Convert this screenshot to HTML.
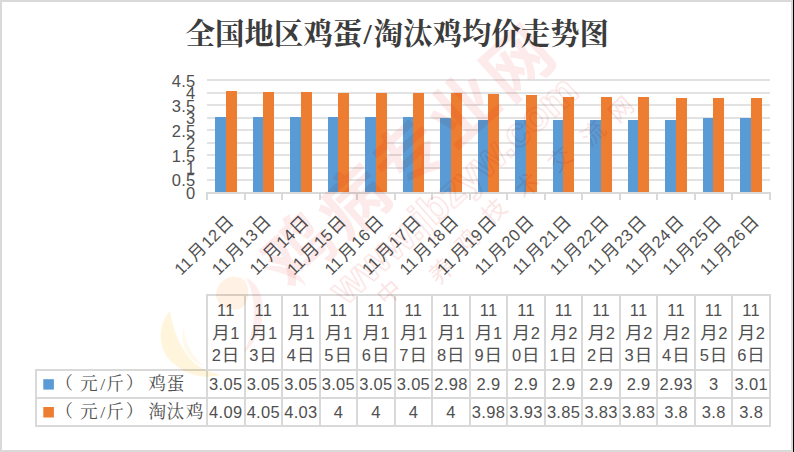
<!DOCTYPE html>
<html lang="zh"><head><meta charset="utf-8"><title>全国地区鸡蛋/淘汰鸡均价走势图</title>
<style>html,body{margin:0;padding:0;background:#fff;}body{width:794px;height:452px;overflow:hidden;font-family:"Liberation Sans",sans-serif;}svg{display:block;}</style>
</head><body>
<svg width="794" height="452" viewBox="0 0 794 452" font-family="'Liberation Sans', 'Noto Sans CJK SC', sans-serif" role="img" aria-label="全国地区鸡蛋/淘汰鸡均价走势图">
<rect x="0" y="0" width="794" height="452" fill="#D9D9D9"/>
<rect x="2" y="2" width="789" height="448" fill="#FFFFFF"/>
<rect x="793" y="0" width="1" height="452" fill="#000000"/>
<g fill="#3C3C3C" font-family="'Liberation Serif', 'Noto Serif CJK SC', serif" font-size="29.4" font-weight="bold"><text x="185.6" y="43.9" textLength="176.5" lengthAdjust="spacingAndGlyphs">全国地区鸡蛋</text><text x="367.7" y="43.9" text-anchor="middle">/</text><text x="373.72" y="43.9" textLength="235.3" lengthAdjust="spacingAndGlyphs">淘汰鸡均价走势图</text></g>
<rect x="207.0" y="79" width="563.0" height="2" fill="#E2E2E2"/>
<rect x="207.0" y="92" width="563.0" height="2" fill="#E2E2E2"/>
<rect x="207.0" y="104" width="563.0" height="2" fill="#E2E2E2"/>
<rect x="207.0" y="117" width="563.0" height="2" fill="#E2E2E2"/>
<rect x="207.0" y="129" width="563.0" height="2" fill="#E2E2E2"/>
<rect x="207.0" y="142" width="563.0" height="2" fill="#E2E2E2"/>
<rect x="207.0" y="154" width="563.0" height="2" fill="#E2E2E2"/>
<rect x="207.0" y="167" width="563.0" height="2" fill="#E2E2E2"/>
<rect x="207.0" y="179" width="563.0" height="2" fill="#E2E2E2"/>
<rect x="215" y="117" width="11" height="75" fill="#5B9BD5"/>
<rect x="226" y="91" width="11" height="101" fill="#ED7D31"/>
<rect x="253" y="117" width="10" height="75" fill="#5B9BD5"/>
<rect x="263" y="92" width="11" height="100" fill="#ED7D31"/>
<rect x="290" y="117" width="11" height="75" fill="#5B9BD5"/>
<rect x="301" y="92" width="11" height="100" fill="#ED7D31"/>
<rect x="328" y="117" width="10" height="75" fill="#5B9BD5"/>
<rect x="338" y="93" width="11" height="99" fill="#ED7D31"/>
<rect x="365" y="117" width="11" height="75" fill="#5B9BD5"/>
<rect x="376" y="93" width="11" height="99" fill="#ED7D31"/>
<rect x="403" y="117" width="10" height="75" fill="#5B9BD5"/>
<rect x="413" y="93" width="11" height="99" fill="#ED7D31"/>
<rect x="440" y="118" width="11" height="74" fill="#5B9BD5"/>
<rect x="451" y="93" width="11" height="99" fill="#ED7D31"/>
<rect x="478" y="120" width="10" height="72" fill="#5B9BD5"/>
<rect x="488" y="94" width="11" height="98" fill="#ED7D31"/>
<rect x="515" y="120" width="11" height="72" fill="#5B9BD5"/>
<rect x="526" y="95" width="11" height="97" fill="#ED7D31"/>
<rect x="553" y="120" width="10" height="72" fill="#5B9BD5"/>
<rect x="563" y="97" width="11" height="95" fill="#ED7D31"/>
<rect x="590" y="120" width="11" height="72" fill="#5B9BD5"/>
<rect x="601" y="97" width="11" height="95" fill="#ED7D31"/>
<rect x="628" y="120" width="10" height="72" fill="#5B9BD5"/>
<rect x="638" y="97" width="11" height="95" fill="#ED7D31"/>
<rect x="665" y="120" width="11" height="72" fill="#5B9BD5"/>
<rect x="676" y="98" width="11" height="94" fill="#ED7D31"/>
<rect x="703" y="118" width="10" height="74" fill="#5B9BD5"/>
<rect x="713" y="98" width="11" height="94" fill="#ED7D31"/>
<rect x="740" y="118" width="11" height="74" fill="#5B9BD5"/>
<rect x="751" y="98" width="11" height="94" fill="#ED7D31"/>
<rect x="206.0" y="192" width="565.0" height="2" fill="#D9D9D9"/>
<rect x="206" y="193" width="2" height="7" fill="#D9D9D9"/>
<rect x="244" y="193" width="2" height="7" fill="#D9D9D9"/>
<rect x="281" y="193" width="2" height="7" fill="#D9D9D9"/>
<rect x="319" y="193" width="2" height="7" fill="#D9D9D9"/>
<rect x="356" y="193" width="2" height="7" fill="#D9D9D9"/>
<rect x="394" y="193" width="2" height="7" fill="#D9D9D9"/>
<rect x="431" y="193" width="2" height="7" fill="#D9D9D9"/>
<rect x="469" y="193" width="2" height="7" fill="#D9D9D9"/>
<rect x="506" y="193" width="2" height="7" fill="#D9D9D9"/>
<rect x="544" y="193" width="2" height="7" fill="#D9D9D9"/>
<rect x="581" y="193" width="2" height="7" fill="#D9D9D9"/>
<rect x="619" y="193" width="2" height="7" fill="#D9D9D9"/>
<rect x="656" y="193" width="2" height="7" fill="#D9D9D9"/>
<rect x="694" y="193" width="2" height="7" fill="#D9D9D9"/>
<rect x="731" y="193" width="2" height="7" fill="#D9D9D9"/>
<rect x="769" y="193" width="2" height="7" fill="#D9D9D9"/>
<g font-size="16.5" letter-spacing="0.3" text-anchor="end" fill="#505050"><text x="195.6" y="86.7">4.5</text><text x="195.6" y="99.17">4</text><text x="195.6" y="111.63">3.5</text><text x="195.6" y="124.1">3</text><text x="195.6" y="136.57">2.5</text><text x="195.6" y="149.03">2</text><text x="195.6" y="161.5">1.5</text><text x="195.6" y="173.97">1</text><text x="195.6" y="186.43">0.5</text><text x="195.6" y="198.9">0</text></g>
<g transform="translate(234.9 222.4) rotate(-45)" font-size="16.5" letter-spacing="0.3" fill="#505050"><text x="-18.02" y="0" font-size="17.4">日</text><text x="-37.79" y="0">12</text><text x="-56.01" y="0" font-size="17.4">月</text><text x="-75.78" y="0">11</text></g>
<g transform="translate(272.43 222.4) rotate(-45)" font-size="16.5" letter-spacing="0.3" fill="#505050"><text x="-18.02" y="0" font-size="17.4">日</text><text x="-37.79" y="0">13</text><text x="-56.01" y="0" font-size="17.4">月</text><text x="-75.78" y="0">11</text></g>
<g transform="translate(309.97 222.4) rotate(-45)" font-size="16.5" letter-spacing="0.3" fill="#505050"><text x="-18.02" y="0" font-size="17.4">日</text><text x="-37.79" y="0">14</text><text x="-56.01" y="0" font-size="17.4">月</text><text x="-75.78" y="0">11</text></g>
<g transform="translate(347.5 222.4) rotate(-45)" font-size="16.5" letter-spacing="0.3" fill="#505050"><text x="-18.02" y="0" font-size="17.4">日</text><text x="-37.79" y="0">15</text><text x="-56.01" y="0" font-size="17.4">月</text><text x="-75.78" y="0">11</text></g>
<g transform="translate(385.03 222.4) rotate(-45)" font-size="16.5" letter-spacing="0.3" fill="#505050"><text x="-18.02" y="0" font-size="17.4">日</text><text x="-37.79" y="0">16</text><text x="-56.01" y="0" font-size="17.4">月</text><text x="-75.78" y="0">11</text></g>
<g transform="translate(422.57 222.4) rotate(-45)" font-size="16.5" letter-spacing="0.3" fill="#505050"><text x="-18.02" y="0" font-size="17.4">日</text><text x="-37.79" y="0">17</text><text x="-56.01" y="0" font-size="17.4">月</text><text x="-75.78" y="0">11</text></g>
<g transform="translate(460.1 222.4) rotate(-45)" font-size="16.5" letter-spacing="0.3" fill="#505050"><text x="-18.02" y="0" font-size="17.4">日</text><text x="-37.79" y="0">18</text><text x="-56.01" y="0" font-size="17.4">月</text><text x="-75.78" y="0">11</text></g>
<g transform="translate(497.63 222.4) rotate(-45)" font-size="16.5" letter-spacing="0.3" fill="#505050"><text x="-18.02" y="0" font-size="17.4">日</text><text x="-37.79" y="0">19</text><text x="-56.01" y="0" font-size="17.4">月</text><text x="-75.78" y="0">11</text></g>
<g transform="translate(535.17 222.4) rotate(-45)" font-size="16.5" letter-spacing="0.3" fill="#505050"><text x="-18.02" y="0" font-size="17.4">日</text><text x="-37.79" y="0">20</text><text x="-56.01" y="0" font-size="17.4">月</text><text x="-75.78" y="0">11</text></g>
<g transform="translate(572.7 222.4) rotate(-45)" font-size="16.5" letter-spacing="0.3" fill="#505050"><text x="-18.02" y="0" font-size="17.4">日</text><text x="-37.79" y="0">21</text><text x="-56.01" y="0" font-size="17.4">月</text><text x="-75.78" y="0">11</text></g>
<g transform="translate(610.23 222.4) rotate(-45)" font-size="16.5" letter-spacing="0.3" fill="#505050"><text x="-18.02" y="0" font-size="17.4">日</text><text x="-37.79" y="0">22</text><text x="-56.01" y="0" font-size="17.4">月</text><text x="-75.78" y="0">11</text></g>
<g transform="translate(647.77 222.4) rotate(-45)" font-size="16.5" letter-spacing="0.3" fill="#505050"><text x="-18.02" y="0" font-size="17.4">日</text><text x="-37.79" y="0">23</text><text x="-56.01" y="0" font-size="17.4">月</text><text x="-75.78" y="0">11</text></g>
<g transform="translate(685.3 222.4) rotate(-45)" font-size="16.5" letter-spacing="0.3" fill="#505050"><text x="-18.02" y="0" font-size="17.4">日</text><text x="-37.79" y="0">24</text><text x="-56.01" y="0" font-size="17.4">月</text><text x="-75.78" y="0">11</text></g>
<g transform="translate(722.83 222.4) rotate(-45)" font-size="16.5" letter-spacing="0.3" fill="#505050"><text x="-18.02" y="0" font-size="17.4">日</text><text x="-37.79" y="0">25</text><text x="-56.01" y="0" font-size="17.4">月</text><text x="-75.78" y="0">11</text></g>
<g transform="translate(760.37 222.4) rotate(-45)" font-size="16.5" letter-spacing="0.3" fill="#505050"><text x="-18.02" y="0" font-size="17.4">日</text><text x="-37.79" y="0">26</text><text x="-56.01" y="0" font-size="17.4">月</text><text x="-75.78" y="0">11</text></g>
<rect x="206" y="294" width="565" height="2" fill="#D9D9D9"/>
<rect x="35" y="369" width="736" height="2" fill="#D9D9D9"/>
<rect x="35" y="397" width="736" height="2" fill="#D9D9D9"/>
<rect x="35" y="425" width="736" height="2" fill="#D9D9D9"/>
<rect x="35" y="369" width="2" height="58" fill="#D9D9D9"/>
<rect x="206" y="294" width="2" height="133" fill="#D9D9D9"/>
<rect x="244" y="294" width="2" height="133" fill="#D9D9D9"/>
<rect x="281" y="294" width="2" height="133" fill="#D9D9D9"/>
<rect x="319" y="294" width="2" height="133" fill="#D9D9D9"/>
<rect x="356" y="294" width="2" height="133" fill="#D9D9D9"/>
<rect x="394" y="294" width="2" height="133" fill="#D9D9D9"/>
<rect x="431" y="294" width="2" height="133" fill="#D9D9D9"/>
<rect x="469" y="294" width="2" height="133" fill="#D9D9D9"/>
<rect x="506" y="294" width="2" height="133" fill="#D9D9D9"/>
<rect x="544" y="294" width="2" height="133" fill="#D9D9D9"/>
<rect x="581" y="294" width="2" height="133" fill="#D9D9D9"/>
<rect x="619" y="294" width="2" height="133" fill="#D9D9D9"/>
<rect x="656" y="294" width="2" height="133" fill="#D9D9D9"/>
<rect x="694" y="294" width="2" height="133" fill="#D9D9D9"/>
<rect x="731" y="294" width="2" height="133" fill="#D9D9D9"/>
<rect x="769" y="294" width="2" height="133" fill="#D9D9D9"/>
<g font-size="16.5" letter-spacing="0.3" fill="#505050"><text x="225.77" y="316.0" text-anchor="middle">11</text><text x="212.36" y="338.8" font-size="17.4">月</text><text x="230.37" y="338.8">1</text><text x="211.7" y="361.2">2</text><text x="221.82" y="361.2" font-size="17.4">日</text><text x="263.3" y="316.0" text-anchor="middle">11</text><text x="249.89" y="338.8" font-size="17.4">月</text><text x="267.91" y="338.8">1</text><text x="249.24" y="361.2">3</text><text x="259.35" y="361.2" font-size="17.4">日</text><text x="300.83" y="316.0" text-anchor="middle">11</text><text x="287.42" y="338.8" font-size="17.4">月</text><text x="305.44" y="338.8">1</text><text x="286.77" y="361.2">4</text><text x="296.88" y="361.2" font-size="17.4">日</text><text x="338.37" y="316.0" text-anchor="middle">11</text><text x="324.96" y="338.8" font-size="17.4">月</text><text x="342.97" y="338.8">1</text><text x="324.3" y="361.2">5</text><text x="334.42" y="361.2" font-size="17.4">日</text><text x="375.9" y="316.0" text-anchor="middle">11</text><text x="362.49" y="338.8" font-size="17.4">月</text><text x="380.5" y="338.8">1</text><text x="361.83" y="361.2">6</text><text x="371.95" y="361.2" font-size="17.4">日</text><text x="413.43" y="316.0" text-anchor="middle">11</text><text x="400.02" y="338.8" font-size="17.4">月</text><text x="418.04" y="338.8">1</text><text x="399.37" y="361.2">7</text><text x="409.48" y="361.2" font-size="17.4">日</text><text x="450.97" y="316.0" text-anchor="middle">11</text><text x="437.56" y="338.8" font-size="17.4">月</text><text x="455.57" y="338.8">1</text><text x="436.9" y="361.2">8</text><text x="447.02" y="361.2" font-size="17.4">日</text><text x="488.5" y="316.0" text-anchor="middle">11</text><text x="475.09" y="338.8" font-size="17.4">月</text><text x="493.11" y="338.8">1</text><text x="474.44" y="361.2">9</text><text x="484.55" y="361.2" font-size="17.4">日</text><text x="526.03" y="316.0" text-anchor="middle">11</text><text x="512.62" y="338.8" font-size="17.4">月</text><text x="530.64" y="338.8">2</text><text x="511.97" y="361.2">0</text><text x="522.08" y="361.2" font-size="17.4">日</text><text x="563.57" y="316.0" text-anchor="middle">11</text><text x="550.16" y="338.8" font-size="17.4">月</text><text x="568.17" y="338.8">2</text><text x="549.5" y="361.2">1</text><text x="559.62" y="361.2" font-size="17.4">日</text><text x="601.1" y="316.0" text-anchor="middle">11</text><text x="587.69" y="338.8" font-size="17.4">月</text><text x="605.7" y="338.8">2</text><text x="587.03" y="361.2">2</text><text x="597.15" y="361.2" font-size="17.4">日</text><text x="638.63" y="316.0" text-anchor="middle">11</text><text x="625.22" y="338.8" font-size="17.4">月</text><text x="643.24" y="338.8">2</text><text x="624.57" y="361.2">3</text><text x="634.68" y="361.2" font-size="17.4">日</text><text x="676.17" y="316.0" text-anchor="middle">11</text><text x="662.76" y="338.8" font-size="17.4">月</text><text x="680.77" y="338.8">2</text><text x="662.1" y="361.2">4</text><text x="672.22" y="361.2" font-size="17.4">日</text><text x="713.7" y="316.0" text-anchor="middle">11</text><text x="700.29" y="338.8" font-size="17.4">月</text><text x="718.3" y="338.8">2</text><text x="699.63" y="361.2">5</text><text x="709.75" y="361.2" font-size="17.4">日</text><text x="751.23" y="316.0" text-anchor="middle">11</text><text x="737.82" y="338.8" font-size="17.4">月</text><text x="755.84" y="338.8">2</text><text x="737.17" y="361.2">6</text><text x="747.28" y="361.2" font-size="17.4">日</text></g>
<g font-size="16.5" letter-spacing="0.3" text-anchor="middle" fill="#505050"><text x="225.77" y="389.7">3.05</text><text x="225.77" y="417.8">4.09</text><text x="263.3" y="389.7">3.05</text><text x="263.3" y="417.8">4.05</text><text x="300.83" y="389.7">3.05</text><text x="300.83" y="417.8">4.03</text><text x="338.37" y="389.7">3.05</text><text x="338.37" y="417.8">4</text><text x="375.9" y="389.7">3.05</text><text x="375.9" y="417.8">4</text><text x="413.43" y="389.7">3.05</text><text x="413.43" y="417.8">4</text><text x="450.97" y="389.7">2.98</text><text x="450.97" y="417.8">4</text><text x="488.5" y="389.7">2.9</text><text x="488.5" y="417.8">3.98</text><text x="526.03" y="389.7">2.9</text><text x="526.03" y="417.8">3.93</text><text x="563.57" y="389.7">2.9</text><text x="563.57" y="417.8">3.85</text><text x="601.1" y="389.7">2.9</text><text x="601.1" y="417.8">3.83</text><text x="638.63" y="389.7">2.9</text><text x="638.63" y="417.8">3.83</text><text x="676.17" y="389.7">2.93</text><text x="676.17" y="417.8">3.8</text><text x="713.7" y="389.7">3</text><text x="713.7" y="417.8">3.8</text><text x="751.23" y="389.7">3.01</text><text x="751.23" y="417.8">3.8</text></g>
<rect x="43.3" y="379.2" width="10.6" height="10.4" fill="#5B9BD5"/>
<rect x="43.3" y="407.0" width="10.6" height="10.5" fill="#ED7D31"/>
<g fill="#505050" font-family="'Liberation Serif', 'Noto Serif CJK SC', serif" font-size="17.7"><text x="55.35" y="389">（</text><text x="80.1" y="390.3">元</text><text x="102.6" y="390.3" text-anchor="middle">/</text><text x="106.3" y="390.3">斤</text><text x="125.78" y="389">）</text><text x="148.26" y="390.3">鸡</text><text x="166.68" y="390.3">蛋</text><text x="55.35" y="416.7">（</text><text x="80.1" y="418.0">元</text><text x="102.6" y="418.0" text-anchor="middle">/</text><text x="106.3" y="418.0">斤</text><text x="125.78" y="416.7">）</text><text x="148.56" y="418.0">淘</text><text x="166.54" y="418.0">汰</text><text x="185.66" y="418.0">鸡</text></g>
<g fill="#FDEBEB" style="mix-blend-mode:multiply" font-size="68" font-weight="bold"><text transform="translate(298.0 248.0) rotate(-42)" x="-34" y="25.8">鸡</text><text transform="translate(352.8 201.5) rotate(-42)" x="-34" y="25.8">病</text><text transform="translate(407.5 155.0) rotate(-42)" x="-34" y="25.8">专</text><text transform="translate(462.2 108.5) rotate(-42)" x="-34" y="25.8">业</text><text transform="translate(517.0 62.0) rotate(-42)" x="-34" y="25.8">网</text></g>
<g transform="translate(346 306) rotate(-42)" style="mix-blend-mode:multiply"><text x="0" y="0" font-size="42" font-weight="bold" fill="none" stroke="#FBDEDE" stroke-width="1.2" textLength="316" lengthAdjust="spacingAndGlyphs">www.jbzyw.com</text></g>
<g fill="#FBE4E4" style="mix-blend-mode:multiply" font-size="24"><text transform="translate(389 292) rotate(-43)" x="-12" y="9">中</text><text transform="translate(441 271) rotate(-43)" x="-12" y="9">养</text><text transform="translate(467 241) rotate(-43)" x="-12" y="9">鸡</text><text transform="translate(494 211) rotate(-43)" x="-12" y="9">技</text><text transform="translate(527 185) rotate(-43)" x="-12" y="9">术</text><text transform="translate(560 159) rotate(-43)" x="-12" y="9">交</text><text transform="translate(593 133) rotate(-43)" x="-12" y="9">流</text><text transform="translate(621 109) rotate(-43)" x="-12" y="9">网</text></g>
<g style="mix-blend-mode:multiply"><path d="M170 311 C157 325 157 350 173 363 C186 375 205 380 221 374.5 C205 372 192 364 185 352 C177 340 172 325 170 311Z" fill="#FFF5DC"/><path d="M184 326 C178 346 190 362 204 366 C192 356 184 342 184 326Z" fill="#FFF9EC"/><path d="M216 296 C216 280 232 272 244 280 C250 286 250 300 242 308 C232 312 218 308 216 296Z" fill="#FFF1E4"/><path d="M246 278 C262 284 268 310 258 334 C252 346 248 350 244 352 C256 330 258 300 246 278Z" fill="#FDEDED"/><path d="M262 268 C280 262 300 270 306 286 C294 276 278 272 262 268Z" fill="#FDEDED"/></g>
</svg>
</body></html>
